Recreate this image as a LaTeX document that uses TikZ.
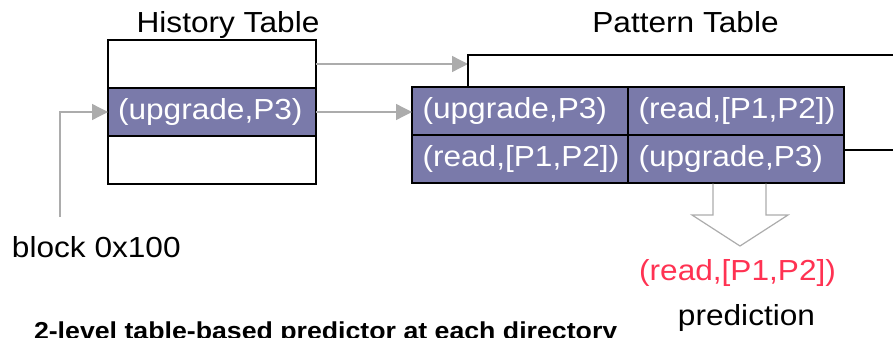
\documentclass[tikz,border=0pt]{standalone}
\usepackage{fontspec}
\setmainfont{Liberation Sans}[FakeStretch=1.09]
\usetikzlibrary{arrows.meta}
\definecolor{cellfill}{RGB}{122,122,170}
\definecolor{linegray}{RGB}{172,172,172}
\definecolor{predred}{RGB}{255,50,82}
\begin{document}
\begin{tikzpicture}[x=1pt,y=-1pt,
  font=\fontsize{29}{34}\selectfont,
  plain/.style={inner sep=0pt,outer sep=0pt},
  hcell/.style={draw=black,line width=1.2pt,minimum width=208pt,minimum height=48pt,
    inner xsep=10pt,inner ysep=0pt,outer sep=0pt,text width=188pt,align=left,anchor=north west},
  pcell/.style={draw=black,line width=1.2pt,fill=cellfill,text=white,minimum width=216pt,minimum height=48pt,
    inner xsep=10.5pt,inner ysep=0pt,outer sep=0pt,text width=195pt,align=left,anchor=north west},
  gline/.style={draw=linegray,line width=1.3pt,-{Triangle[length=16pt,width=16pt]}},
  bline/.style={draw=black,line width=1.1pt},
  hollow/.style={draw=linegray,line width=1.2pt,line join=miter}]
\useasboundingbox (0,0) rectangle (893,337);
\clip (0,0) rectangle (893,337);

% titles
\node[plain,anchor=base] (htitle) at (228,33) {History Table};
\node[plain,anchor=base] (ptitle) at (685.5,33) {Pattern Table};

% history table
\node[hcell] (htop) at (108,40) {};
\node[hcell,fill=cellfill,text=white] (hmid) at (108,88) {(upgrade,P3)};
\node[hcell] (hbot) at (108,136) {};

% pattern table
\node[pcell] (p11) at (412,87) {(upgrade,P3)};
\node[pcell] (p12) at (628,87) {(read,[P1,P2])};
\node[pcell] (p21) at (412,135) {(read,[P1,P2])};
\node[pcell] (p22) at (628,135) {(upgrade,P3)};

% labels
\node[plain,anchor=base west] (blk) at (12,257) {block 0x100};
\node[plain,anchor=base,text=predred] (pred) at (737.5,280) {(read,[P1,P2])};
\node[plain,anchor=base] (plabel) at (746.5,325) {prediction};
\node[plain,anchor=base west,font=\bfseries\fontsize{24.5}{29}\selectfont] (caption) at (34,339.5)
  {2-level table-based predictor at each directory};

% connectors
\coordinate (blkin) at (60,217);
\draw[gline] (blkin) |- (hmid.west);
\draw[gline] (hmid.east) -- (hmid.east -| p11.west);
\coordinate (pin) at (468,64);
\draw[gline] (htop.east) -- (pin);
\coordinate (edge1) at (893,55);
\coordinate (edge2) at (893,150);
\draw[bline] (p11.north -| pin) |- (edge1);
\draw[bline] ([yshift=9pt]p22.east) -- (edge2);

% hollow arrow from the pattern table to the prediction
\draw[hollow] (713,183.6) -- (713,215) -- (692,215) -- (740,246) -- (788,215) -- (766,215) -- (766,183.6);
\end{tikzpicture}
\end{document}
